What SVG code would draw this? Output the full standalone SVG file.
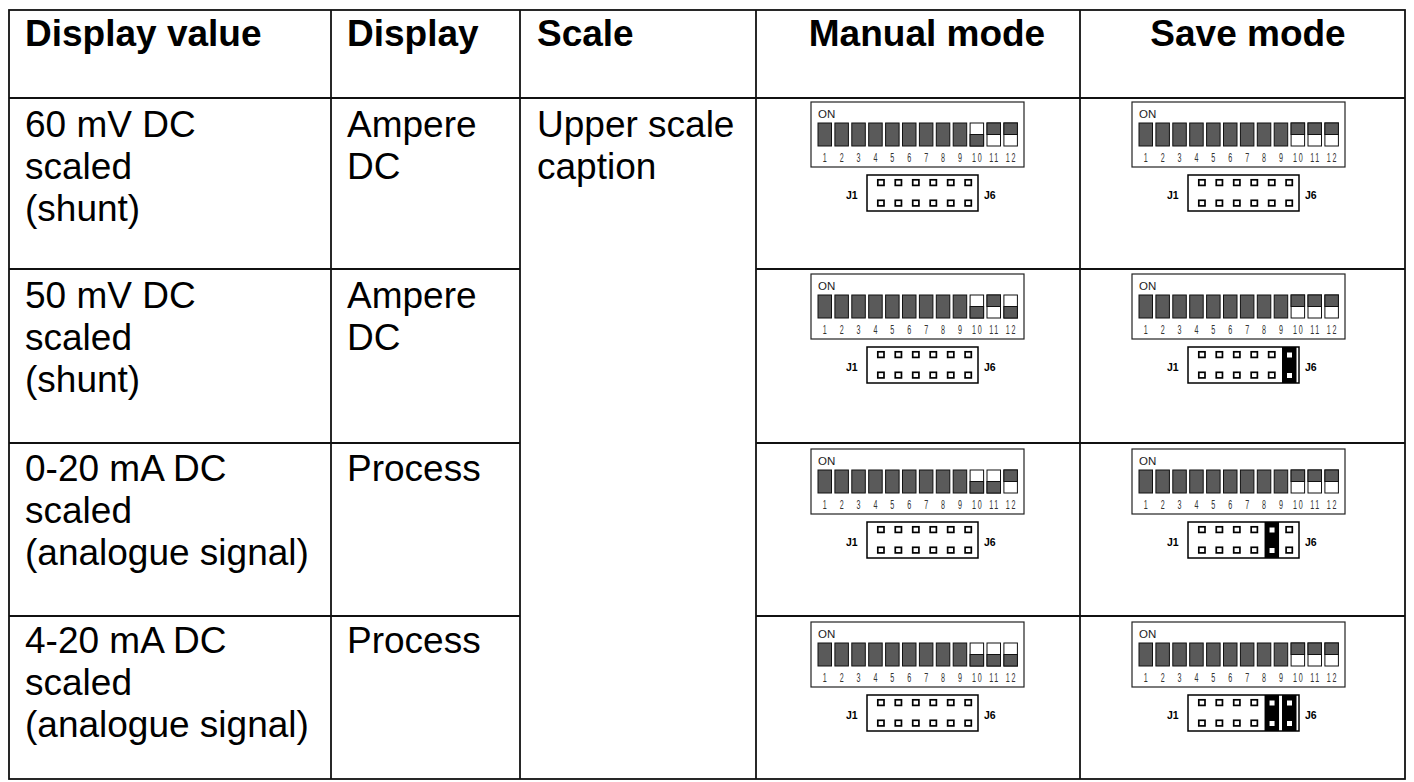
<svg xmlns="http://www.w3.org/2000/svg" xmlns:xlink="http://www.w3.org/1999/xlink" width="1414" height="782" viewBox="0 0 1414 782">
<style>
.t{font-family:"Liberation Sans",Arial,sans-serif;font-size:37px;fill:#000}
.h{font-weight:bold}
.on{font-family:"Liberation Sans",Arial,sans-serif;font-size:11.5px;fill:#222}
.n{font-family:"Liberation Sans",Arial,sans-serif;font-size:13px;fill:#333;text-anchor:middle}
.n2{letter-spacing:3px}
.j{font-family:"Liberation Sans",Arial,sans-serif;font-size:10.5px;font-weight:bold;fill:#000}
.grid{stroke:#111;stroke-width:1.8;fill:none}
.sw{fill:#5a5a5a;stroke:#111;stroke-width:1}
.sww{fill:#fff;stroke:#111;stroke-width:1}
.pin{fill:#fff;stroke:#000;stroke-width:1.7}
.box{fill:#fff;stroke:#222;stroke-width:1.2}
</style>
<defs>
<g id="swD"><rect class="sw" width="13.5" height="23"/></g>
<g id="swU"><rect class="sww" width="13.5" height="23"/><rect class="sw" width="13.5" height="11.5"/></g>
<g id="swL"><rect class="sww" width="13.5" height="23"/><rect class="sw" y="11.5" width="13.5" height="11.5"/></g>
<g id="jp"><rect x="-4.5" y="73" width="14.5" height="36" fill="#000"/><rect x="0.5" y="78.5" width="5" height="5" fill="#fff"/><rect x="0.5" y="99" width="5" height="5" fill="#fff"/></g>
<g id="dip">
<rect class="box" x="0" y="0" width="213" height="65"/>
<text class="on" x="7" y="16">ON</text>
<use xlink:href="#swD" x="7" y="21"/>
<use xlink:href="#swD" x="23.9" y="21"/>
<use xlink:href="#swD" x="40.8" y="21"/>
<use xlink:href="#swD" x="57.7" y="21"/>
<use xlink:href="#swD" x="74.6" y="21"/>
<use xlink:href="#swD" x="91.5" y="21"/>
<use xlink:href="#swD" x="108.4" y="21"/>
<use xlink:href="#swD" x="125.3" y="21"/>
<use xlink:href="#swD" x="142.2" y="21"/>
<g transform="translate(0,60) scale(0.55,1)">
<text class="n" x="25">1</text>
<text class="n" x="55.73">2</text>
<text class="n" x="86.45">3</text>
<text class="n" x="117.18">4</text>
<text class="n" x="147.91">5</text>
<text class="n" x="178.64">6</text>
<text class="n" x="209.36">7</text>
<text class="n" x="240.09">8</text>
<text class="n" x="270.82">9</text>
<text class="n n2" x="303">10</text>
<text class="n n2" x="333.7">11</text>
<text class="n n2" x="364.5">12</text>
</g>
<rect x="56" y="73" width="111" height="36" fill="#fff" stroke="#000" stroke-width="1.5"/>
<rect class="pin" x="66.8" y="77.8" width="6.2" height="5.6"/>
<rect class="pin" x="84.26" y="77.8" width="6.2" height="5.6"/>
<rect class="pin" x="101.72" y="77.8" width="6.2" height="5.6"/>
<rect class="pin" x="119.18" y="77.8" width="6.2" height="5.6"/>
<rect class="pin" x="136.64" y="77.8" width="6.2" height="5.6"/>
<rect class="pin" x="154.1" y="77.8" width="6.2" height="5.6"/>
<rect class="pin" x="66.8" y="98.3" width="6.2" height="5.6"/>
<rect class="pin" x="84.26" y="98.3" width="6.2" height="5.6"/>
<rect class="pin" x="101.72" y="98.3" width="6.2" height="5.6"/>
<rect class="pin" x="119.18" y="98.3" width="6.2" height="5.6"/>
<rect class="pin" x="136.64" y="98.3" width="6.2" height="5.6"/>
<rect class="pin" x="154.1" y="98.3" width="6.2" height="5.6"/>
<text class="j" x="35" y="97">J1</text>
<text class="j" x="173" y="97">J6</text>
</g>
</defs>
<rect width="1414" height="782" fill="#fff"/>
<g id="connectors">
<rect class="grid" x="9" y="10" width="1396" height="769"/>
<line class="grid" x1="9" y1="98" x2="1405" y2="98"/>
<line class="grid" x1="331" y1="10" x2="331" y2="779"/>
<line class="grid" x1="520" y1="10" x2="520" y2="779"/>
<line class="grid" x1="756" y1="10" x2="756" y2="779"/>
<line class="grid" x1="1080" y1="10" x2="1080" y2="779"/>
<line class="grid" x1="9" y1="269" x2="520" y2="269"/>
<line class="grid" x1="756" y1="269" x2="1405" y2="269"/>
<line class="grid" x1="9" y1="443" x2="520" y2="443"/>
<line class="grid" x1="756" y1="443" x2="1405" y2="443"/>
<line class="grid" x1="9" y1="616" x2="520" y2="616"/>
<line class="grid" x1="756" y1="616" x2="1405" y2="616"/>
</g>
<g id="header">
<text class="t h" x="25" y="46">Display value</text>
<text class="t h" x="347" y="46">Display</text>
<text class="t h" x="537" y="46">Scale</text>
<text class="t h" x="927" y="46" text-anchor="middle">Manual mode</text>
<text class="t h" x="1248" y="46" text-anchor="middle">Save mode</text>
</g>
<g id="row1">
<text class="t" x="25" y="137">60 mV DC</text>
<text class="t" x="25" y="179">scaled</text>
<text class="t" x="25" y="221">(shunt)</text>
<text class="t" x="347" y="137">Ampere</text>
<text class="t" x="347" y="179">DC</text>
<g id="m1" transform="translate(811,102)"><use xlink:href="#dip"/><use xlink:href="#swL" x="159.1" y="21"/><use xlink:href="#swU" x="176" y="21"/><use xlink:href="#swU" x="192.9" y="21"/></g>
<g id="s1" transform="translate(1132,102)"><use xlink:href="#dip"/><use xlink:href="#swU" x="159.1" y="21"/><use xlink:href="#swU" x="176" y="21"/><use xlink:href="#swU" x="192.9" y="21"/></g>
</g>
<g id="scale">
<text class="t" x="537" y="137">Upper scale</text>
<text class="t" x="537" y="179">caption</text>
</g>
<g id="row2">
<text class="t" x="25" y="308">50 mV DC</text>
<text class="t" x="25" y="350">scaled</text>
<text class="t" x="25" y="392">(shunt)</text>
<text class="t" x="347" y="308">Ampere</text>
<text class="t" x="347" y="350">DC</text>
<g id="m2" transform="translate(811,274)"><use xlink:href="#dip"/><use xlink:href="#swL" x="159.1" y="21"/><use xlink:href="#swU" x="176" y="21"/><use xlink:href="#swL" x="192.9" y="21"/></g>
<g id="s2" transform="translate(1132,274)"><use xlink:href="#dip"/><use xlink:href="#swU" x="159.1" y="21"/><use xlink:href="#swU" x="176" y="21"/><use xlink:href="#swU" x="192.9" y="21"/><use xlink:href="#jp" x="154.5"/></g>
</g>
<g id="row3">
<text class="t" x="25" y="481">0-20 mA DC</text>
<text class="t" x="25" y="523">scaled</text>
<text class="t" x="25" y="565">(analogue signal)</text>
<text class="t" x="347" y="481">Process</text>
<g id="m3" transform="translate(811,449)"><use xlink:href="#dip"/><use xlink:href="#swL" x="159.1" y="21"/><use xlink:href="#swL" x="176" y="21"/><use xlink:href="#swU" x="192.9" y="21"/></g>
<g id="s3" transform="translate(1132,449)"><use xlink:href="#dip"/><use xlink:href="#swU" x="159.1" y="21"/><use xlink:href="#swU" x="176" y="21"/><use xlink:href="#swU" x="192.9" y="21"/><use xlink:href="#jp" x="137.04"/></g>
</g>
<g id="row4">
<text class="t" x="25" y="653">4-20 mA DC</text>
<text class="t" x="25" y="695">scaled</text>
<text class="t" x="25" y="737">(analogue signal)</text>
<text class="t" x="347" y="653">Process</text>
<g id="m4" transform="translate(811,622)"><use xlink:href="#dip"/><use xlink:href="#swL" x="159.1" y="21"/><use xlink:href="#swL" x="176" y="21"/><use xlink:href="#swL" x="192.9" y="21"/></g>
<g id="s4" transform="translate(1132,622)"><use xlink:href="#dip"/><use xlink:href="#swU" x="159.1" y="21"/><use xlink:href="#swU" x="176" y="21"/><use xlink:href="#swU" x="192.9" y="21"/><use xlink:href="#jp" x="137.04"/><use xlink:href="#jp" x="154.5"/></g>
</g>
</svg>
